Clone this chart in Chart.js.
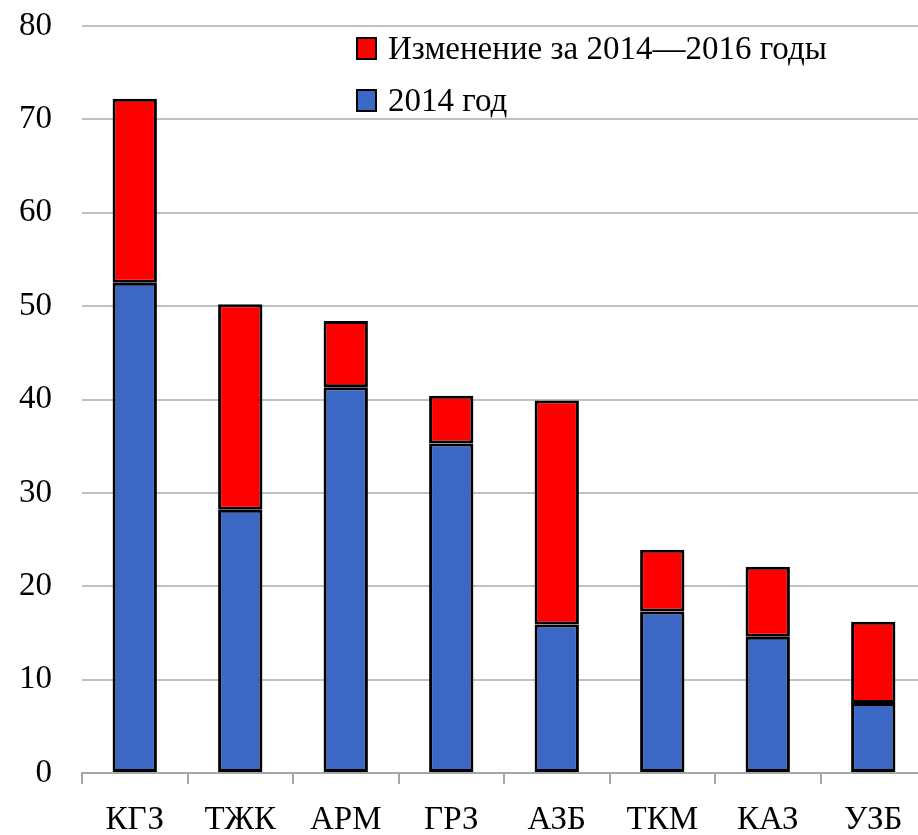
<!DOCTYPE html>
<html>
<head>
<meta charset="utf-8">
<script src="https://cdn.jsdelivr.net/npm/chart.js@4/dist/chart.umd.min.js"></script>
<style>
  html, body { margin: 0; padding: 0; background: #fff; overflow: hidden; width: 918px; height: 835px; }
  #wrap { position: absolute; left: 0; top: 0; width: 930px; height: 835px; }
  #legend { position: absolute; left: 356px; top: 22px; font-family: "Liberation Serif", "DejaVu Serif", serif; font-size: 33px; color: #000; }
  .item { display: flex; align-items: center; height: 52px; }
  .box { width: 17px; height: 19px; border: 2px solid #000; margin-right: 11px; box-sizing: content-box; }
</style>
</head>
<body>
<div id="wrap">
  <canvas id="c" width="930" height="835" style="width:930px;height:835px"></canvas>
  <div id="legend"></div>
</div>
<script>
const categories = ['КГЗ', 'ТЖК', 'АРМ', 'ГРЗ', 'АЗБ', 'ТКМ', 'КАЗ', 'УЗБ'];
const base2014 = [52.5, 28.2, 41.3, 35.3, 15.9, 17.3, 14.6, 7.5];
const change2014_2016 = [19.7, 22.0, 7.1, 5.1, 24.0, 6.6, 7.5, 8.7];
const seriesNames = ['2014 год', 'Изменение за 2014—2016 годы'];
const seriesColors = ['#3A68C4', '#FF0000'];
const yTicks = [0, 10, 20, 30, 40, 50, 60, 70, 80];

const FONT = '"Liberation Serif", "DejaVu Serif", serif';

const chart = new Chart(document.getElementById('c'), {
  type: 'bar',
  data: {
    labels: categories,
    datasets: [
      { label: seriesNames[0], data: base2014, backgroundColor: seriesColors[0], borderColor: '#000', borderWidth: 3, borderSkipped: false, categoryPercentage: 1, barPercentage: 0.42 },
      { label: seriesNames[1], data: change2014_2016, backgroundColor: seriesColors[1], borderColor: '#000', borderWidth: 3, borderSkipped: false, categoryPercentage: 1, barPercentage: 0.42 }
    ]
  },
  options: {
    responsive: false,
    maintainAspectRatio: false,
    animation: false,
    layout: { autoPadding: false, padding: { top: 26, right: 4, left: 0, bottom: 0 } },
    plugins: { legend: { display: false }, tooltip: { enabled: false } },
    scales: {
      x: {
        stacked: true,
        offset: true,
        grid: { offset: true, drawOnChartArea: false, drawTicks: true, tickLength: 11, color: '#A6A6A6', lineWidth: 2 },
        border: { display: true, color: '#A6A6A6', width: 2 },
        ticks: { color: '#000', font: { family: FONT, size: 33 }, padding: 17, maxRotation: 0, autoSkip: false },
        afterFit: (s) => { s.height = 62; s.paddingLeft = 0; s.paddingRight = 0; }
      },
      y: {
        stacked: true,
        min: 0, max: 80,
        afterBuildTicks: (s) => { s.ticks = yTicks.map(v => ({ value: v })); },
        grid: { color: '#C0C0C0', lineWidth: 2, drawTicks: false },
        border: { display: false },
        ticks: { color: '#000', font: { family: FONT, size: 33 }, padding: 30 },
        afterFit: (s) => { s.width = 82; s.paddingTop = 0; s.paddingBottom = 0; }
      }
    }
  }
});

// legend (reverse order, as in reference)
const leg = document.getElementById('legend');
[1, 0].forEach(i => {
  const it = document.createElement('div');
  it.className = 'item';
  const b = document.createElement('div');
  b.className = 'box';
  b.style.background = seriesColors[i];
  const t = document.createElement('span');
  t.textContent = seriesNames[i];
  it.appendChild(b); it.appendChild(t);
  leg.appendChild(it);
});
</script>
</body>
</html>
